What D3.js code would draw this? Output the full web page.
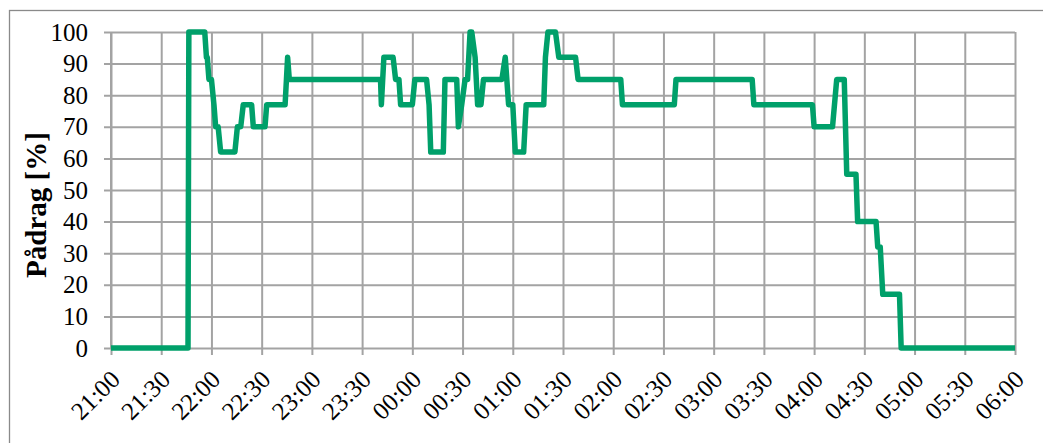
<!DOCTYPE html>
<html>
<head>
<meta charset="utf-8">
<script src="https://cdn.jsdelivr.net/npm/d3@7"></script>
<style>
  html, body { margin: 0; padding: 0; background: #fff; }
  svg { display: block; }
</style>
</head>
<body>
<svg id="chart" width="1043" height="443"></svg>
<script>
// Logged valve output over the night, 21:00 – 06:00
const sampleTimes = [
  "21:00:00", "21:46:00", "21:46:30", "21:56:00", "21:57:00", "21:57:30", "21:58:30", "22:00:00",
  "22:01:30", "22:02:30", "22:04:00", "22:05:30", "22:14:00", "22:15:30", "22:17:30", "22:19:00",
  "22:24:00", "22:25:00", "22:32:00", "22:33:00", "22:44:00", "22:45:30", "22:46:30", "23:41:00",
  "23:41:30", "23:43:00", "23:48:30", "23:50:00", "23:52:00", "23:53:00", "00:00:00", "00:01:30",
  "00:08:30", "00:10:00", "00:11:00", "00:18:30", "00:19:30", "00:26:30", "00:27:30", "00:29:30",
  "00:31:30", "00:33:00", "00:34:30", "00:35:30", "00:37:30", "00:39:00", "00:41:00", "00:42:30",
  "00:53:30", "00:55:30", "00:57:30", "01:00:00", "01:01:30", "01:06:30", "01:08:00", "01:18:30",
  "01:19:30", "01:21:00", "01:25:30", "01:27:30", "01:37:30", "01:39:00", "02:04:30", "02:05:30",
  "02:36:30", "02:37:30", "03:23:00", "03:24:00", "03:59:00", "04:00:00", "04:11:00", "04:13:30",
  "04:18:00", "04:19:30", "04:25:00", "04:26:00", "04:37:00", "04:38:00", "04:39:30", "04:41:00",
  "04:51:00", "04:52:00", "06:00:00"
];
const sampleValues = [
  0, 0, 100, 100, 92, 92, 85, 85,
  77, 70, 70, 62, 62, 70, 70, 77,
  77, 70, 70, 77, 77, 92, 85, 85,
  77, 92, 92, 85, 85, 77, 77, 85,
  85, 77, 62, 62, 85, 85, 70, 77,
  85, 85, 100, 100, 92, 77, 77, 85,
  85, 92, 77, 77, 62, 62, 77, 77,
  92, 100, 100, 92, 92, 85, 85, 77,
  77, 85, 85, 77, 77, 70, 70, 85,
  85, 55, 55, 40, 40, 32, 32, 17,
  17, 0, 0
];
const xTickLabels = [
  "21:00", "21:30", "22:00", "22:30", "23:00", "23:30", "00:00", "00:30", "01:00", "01:30",
  "02:00", "02:30", "03:00", "03:30", "04:00", "04:30", "05:00", "05:30", "06:00"
];
const yTickValues = [0, 10, 20, 30, 40, 50, 60, 70, 80, 90, 100];
const yAxisTitle = "Pådrag [%]";

// Clock strings after midnight belong to the following day
const baseDay = "2000-01-01", nextDay = "2000-01-02";
const parseFull = d3.timeParse("%Y-%m-%d %H:%M:%S");
function toDate(clock) {
  const parts = clock.split(":");
  const hh = +parts[0];
  const full = parts.length === 2 ? clock + ":00" : clock;
  return parseFull((hh < 12 ? nextDay : baseDay) + " " + full);
}

const points = sampleTimes.map((t, i) => ({ t: toDate(t), v: sampleValues[i] }));
const tickDates = xTickLabels.map(toDate);

const margin = { left: 111, right: 28, top: 32, bottom: 95 };
const W = 1043, H = 443;
const svg = d3.select("#chart");

// outer frame of the chart object
svg.append("rect")
  .attr("x", 9.5).attr("y", 10.5)
  .attr("width", 1040).attr("height", 440)
  .attr("fill", "#fff").attr("stroke", "#8a8a8a").attr("stroke-width", 1.3);

const x = d3.scaleTime()
  .domain([tickDates[0], tickDates[tickDates.length - 1]])
  .range([margin.left, W - margin.right]);
const y = d3.scaleLinear().domain([0, 100]).range([H - margin.bottom, margin.top]);

const gridColor = "#a3a3a3";
const fontFamily = "'Liberation Serif', 'Times New Roman', serif";

// horizontal gridlines with their left tick marks
const yAxis = d3.axisLeft(y).tickValues(yTickValues)
  .tickSize(-(x.range()[1] - x.range()[0]) - 7)
  .tickFormat(d3.format("d"));
const gy = svg.append("g").attr("transform", `translate(${x.range()[0] - 7},0)`).call(yAxis);
gy.select(".domain").remove();
gy.selectAll(".tick line").attr("stroke", gridColor).attr("stroke-width", 2);
gy.selectAll(".tick text")
  .attr("x", -16)
  .attr("font-family", fontFamily).attr("font-size", 25).attr("fill", "#000");

// vertical gridlines with their bottom tick marks
const xAxis = d3.axisBottom(x).tickValues(tickDates)
  .tickSize(-(y.range()[0] - y.range()[1]) - 7)
  .tickFormat((d, i) => xTickLabels[i]);
const gx = svg.append("g").attr("transform", `translate(0,${y.range()[0] + 7})`).call(xAxis);
gx.select(".domain").remove();
gx.selectAll(".tick line").attr("stroke", gridColor).attr("stroke-width", 2);
gx.selectAll(".tick text")
  .attr("font-family", fontFamily).attr("font-size", 25).attr("fill", "#000")
  .attr("text-anchor", "end")
  .attr("x", 0).attr("y", 0).attr("dy", 0)
  .attr("transform", "translate(10,26) rotate(-45)");

// left axis line
svg.append("line")
  .attr("x1", x.range()[0]).attr("x2", x.range()[0])
  .attr("y1", y.range()[1]).attr("y2", y.range()[0])
  .attr("stroke", gridColor).attr("stroke-width", 2);

// y-axis title
svg.append("text")
  .attr("transform", "translate(46,205) rotate(-90)")
  .attr("text-anchor", "middle")
  .attr("font-family", fontFamily).attr("font-weight", "bold").attr("font-size", 29)
  .attr("fill", "#000")
  .text(yAxisTitle);

// valve output trace
const line = d3.line().x(d => x(d.t)).y(d => y(d.v));
svg.append("path")
  .datum(points)
  .attr("d", line)
  .attr("fill", "none")
  .attr("stroke", "#00a06a")
  .attr("stroke-width", 5.5)
  .attr("stroke-linejoin", "round")
  .attr("stroke-linecap", "butt");
</script>
</body>
</html>
